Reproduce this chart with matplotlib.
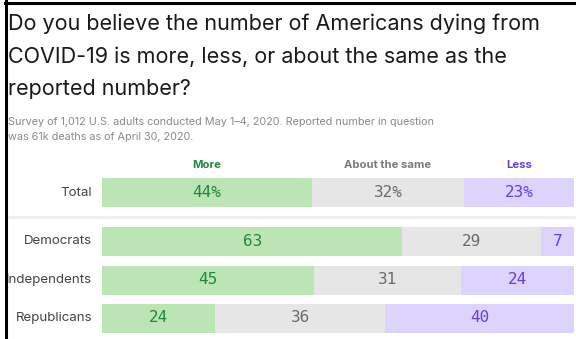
import numpy as np
import matplotlib.pyplot as plt
from matplotlib.lines import Line2D

# ── Data ──────────────────────────────────────────────────────────────────────
groups = ["Total", "Democrats", "Independents", "Republicans"]
answers = ["More", "About the same", "Less"]
more = [44, 63, 45, 24]
same = [32, 29, 31, 36]
less = [23, 7, 24, 40]

title = ("Do you believe the number of Americans dying from\n"
         "COVID-19 is more, less, or about the same as the\n"
         "reported number?")
subtitle = ("Survey of 1,012 U.S. adults conducted May 1–4, 2020. Reported number in question\n"
            "was 61k deaths as of April 30, 2020.")

# ── Style ─────────────────────────────────────────────────────────────────────
W, H = 576, 339
fills = ["#bce5b5", "#e6e6e6", "#dcd4fd"]
txt_cols = ["#23873a", "#6b6b6b", "#6a3ee0"]
head_cols = ["#1f8a3b", "#7a7a7a", "#6a3ee0"]
row_y = [192.5, 241.5, 280, 318]   # pixel rows from top
bar_h = 29

fig = plt.figure(figsize=(W / 100, H / 100), dpi=100)
fig.patch.set_facecolor("white")

fig.text(8 / W, 1 - 13 / H, title, fontsize=15.5, color="#1a1a1a",
         family="Inter", va="top", ha="left", linespacing=1.78)
fig.text(8 / W, 1 - 117 / H, subtitle, fontsize=7.8, color="#8a8a8a",
         family="Inter", va="top", ha="left", linespacing=1.65)

ax = fig.add_axes([102 / W, 0, 472 / W, 1])
ax.set_xlim(0, 1)
ax.set_ylim(H, 0)
ax.axis("off")

raw = np.array([more, same, less], dtype=float)
shares = raw / raw.sum(axis=0)          # each row fills the full width
left = np.zeros(len(groups))
for k in range(len(answers)):
    vals = shares[k]
    ax.barh(row_y, vals, left=left, height=bar_h, color=fills[k], linewidth=0)
    for i, v in enumerate(vals):
        n = int(raw[k, i])
        label = f"{n}%" if i == 0 else f"{n}"
        ax.text(left[i] + v / 2, row_y[i], label, ha="center", va="center",
                fontsize=11.5, color=txt_cols[k], family="DejaVu Sans Mono")
    # column headers centred over the Total row segments
    ax.text(left[0] + vals[0] / 2, 165, answers[k], ha="center", va="center",
            fontsize=8.1, fontweight="bold", color=head_cols[k], family="Inter")
    left = left + vals

for g, y in zip(groups, row_y):
    ax.text(-0.021, y, g, ha="right", va="center", fontsize=9.6,
            color="#444444", family="Inter", clip_on=False)

# separator between Total and the party rows
fig.add_artist(Line2D([8 / W, 1], [1 - 217 / H] * 2, color="#eeeeee", lw=2))

# black frame edges (left and top)
fig.add_artist(Line2D([6 / W, 6 / W], [0, 1], color="black", lw=2.2, zorder=10))
fig.add_artist(Line2D([5 / W, 1], [1 - 2.5 / H] * 2, color="black", lw=2.2, zorder=10))

fig.savefig("out.png", dpi=100)
